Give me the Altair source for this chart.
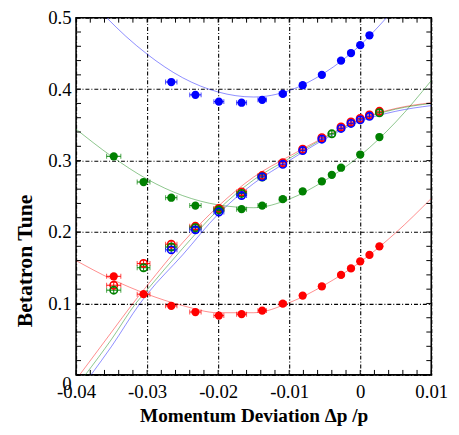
import altair as alt
import pandas as pd

# ---------------- data ----------------
X = [-0.0347, -0.0305, -0.0266, -0.0232, -0.0199, -0.0167, -0.0138, -0.0109,
     -0.0081, -0.0054, -0.0040, -0.0027, -0.0013, 0.0, 0.0013, 0.0027]
XERR = [0.0010, 0.0009, 0.0008, 0.0008, 0.0007, 0.0007, 0.0006, 0.0005,
        0.0004, 0.0004, 0.0004, 0.0004, 0.0004, 0.0004, 0.0004, 0.0004]
YERR = [0.004, 0.004, 0.004, 0.004, 0.004, 0.004, 0.004, 0.004,
        0.004, 0.004, 0.004, 0.004, 0.004, 0.004, 0.004, 0.004]

RED_FILLED = [0.138, 0.113, 0.0966, 0.088, 0.083, 0.085, 0.090, 0.0997,
              0.111, 0.124, None, 0.140, 0.149, 0.159, 0.168, 0.180]
GREEN_FILLED = [0.306, 0.270, 0.248, 0.237, 0.232, 0.232, 0.237, 0.246,
                0.257, 0.271, 0.280, 0.290, None, 0.3085, None, 0.333]
BLUE_FILLED = [None, None, 0.410, 0.392, 0.3825, 0.381, 0.385, 0.3935,
               0.4055, 0.420, None, 0.440, 0.4506, 0.4616, 0.4754, None]

RED_OPEN = [0.1255, 0.156, 0.183, 0.208, 0.233, 0.256, 0.279, 0.297,
            0.316, 0.332, None, 0.347, 0.354, 0.359, 0.364, 0.369]
GREEN_OPEN = [0.1186, 0.150, 0.179, 0.206, 0.231, 0.254, 0.277, None,
              None, None, 0.3375, None, None, None, None, 0.367]
BLUE_OPEN = [None, None, 0.175, 0.203, 0.228, 0.251, 0.2772, 0.2948,
             0.314, 0.330, None, 0.345, 0.352, 0.357, 0.362, None]

# fitted curves
RED_PAR_X = [-0.04, -0.035, -0.03, -0.025, -0.02, -0.015, -0.01, -0.005, 0.0, 0.005, 0.01]
RED_PAR_Y = [0.160, 0.134, 0.113, 0.097, 0.087, 0.087, 0.101, 0.126, 0.158, 0.199, 0.247]
GREEN_PAR_X = [-0.04, -0.035, -0.03, -0.025, -0.02, -0.015, -0.01, -0.005, 0.0, 0.005, 0.01]
GREEN_PAR_Y = [0.344, 0.306, 0.274, 0.251, 0.238, 0.234, 0.246, 0.272, 0.307, 0.354, 0.412]
BLUE_PAR_X = [-0.0357, -0.033, -0.03, -0.025, -0.02, -0.015, -0.01, -0.005, 0.0, 0.0037]
BLUE_PAR_Y = [0.500, 0.474, 0.449, 0.416, 0.396, 0.389, 0.398, 0.423, 0.4616, 0.500]

RED_DIAG_X = [-0.0395, -0.035, -0.032, -0.03, -0.025, -0.02, -0.015, -0.01, -0.005, 0.0, 0.005, 0.01]
RED_DIAG_Y = [0.0, 0.060, 0.100, 0.125, 0.185, 0.236, 0.277, 0.306, 0.333, 0.358, 0.373, 0.381]
GREEN_DIAG_X = [-0.0387, -0.035, -0.0316, -0.03, -0.025, -0.02, -0.015, -0.01, -0.005, 0.0, 0.005, 0.01]
GREEN_DIAG_Y = [0.0, 0.050, 0.100, 0.119, 0.177, 0.231, 0.273, 0.303, 0.332, 0.357, 0.372, 0.380]
BLUE_DIAG_X = [-0.0379, -0.035, -0.031, -0.03, -0.025, -0.02, -0.015, -0.01, -0.005, 0.0, 0.005, 0.01]
BLUE_DIAG_Y = [0.0, 0.040, 0.100, 0.113, 0.168, 0.225, 0.268, 0.300, 0.330, 0.355, 0.369, 0.377]

X_MAJOR = [-0.04, -0.03, -0.02, -0.01, 0.0, 0.01]
Y_MAJOR = [0.0, 0.1, 0.2, 0.3, 0.4, 0.5]
X_MINOR = [round(-0.04 + 0.002 * i, 4) for i in range(26)]
Y_MINOR = [round(0.02 * i, 3) for i in range(26)]

# ---------------- tables ----------------
rows = []
series = [("red", "filled", RED_FILLED), ("green", "filled", GREEN_FILLED),
          ("blue", "filled", BLUE_FILLED), ("red", "open", RED_OPEN),
          ("green", "open", GREEN_OPEN), ("blue", "open", BLUE_OPEN)]
n = 0
for col, kind, vals in series:
    for i, v in enumerate(vals):
        if v is None:
            continue
        rows.append(dict(x=X[i], y=v, xlo=X[i] - XERR[i], xhi=X[i] + XERR[i],
                         ylo=v - YERR[i], yhi=v + YERR[i], color=col, kind=kind, n=n))
        n += 1
pts = pd.DataFrame(rows)
filled = pts[pts.kind == "filled"]
opened = pts[pts.kind == "open"]

crow = []
for name, col, xs, ys in [("rp", "red", RED_PAR_X, RED_PAR_Y), ("gp", "green", GREEN_PAR_X, GREEN_PAR_Y),
                          ("bp", "blue", BLUE_PAR_X, BLUE_PAR_Y), ("rd", "red", RED_DIAG_X, RED_DIAG_Y),
                          ("gd", "green", GREEN_DIAG_X, GREEN_DIAG_Y), ("bd", "blue", BLUE_DIAG_X, BLUE_DIAG_Y)]:
    for a, b in zip(xs, ys):
        crow.append(dict(x=a, y=b, curve=name, color=col))
curves = pd.DataFrame(crow)

xt = pd.DataFrame({"v": X_MINOR})
yt = pd.DataFrame({"v": Y_MINOR})

# ---------------- styling ----------------
W, H = 360, 362
TL = 5  # tick length
FONT = "Liberation Serif"
XS = alt.Scale(domain=[-0.04, 0.01], nice=False, zero=False)
YS = alt.Scale(domain=[0, 0.5], nice=False, zero=False)
CS = alt.Scale(domain=["red", "green", "blue"], range=["#ff0000", "#008000", "#0000ff"])
COLOR = alt.Color("color:N", scale=CS, legend=None)

AX_MAIN = alt.Axis(orient="bottom", values=X_MAJOR, ticks=False, tickSize=0, domain=False,
                   grid=True, gridColor="black", gridDash=[4, 2, 1, 2], gridWidth=1.1,
                   labelExpr="datum.value === 0 ? '0' : (datum.value < 0 ? '-' + format(-datum.value, '.2f') : format(datum.value, '.2f'))",
                   labelFont=FONT, labelFontSize=19, labelColor="black", labelPadding=8,
                   labelFlush=False, labelOverlap=False,
                   title="Momentum Deviation \u0394p /p", titleFont=FONT, titleFontSize=19.5,
                   titleFontWeight="bold", titleColor="black", titlePadding=5)
AY_MAIN = alt.Axis(orient="left", values=Y_MAJOR, ticks=False, tickSize=0, domain=False,
                   grid=True, gridColor="black", gridDash=[4, 2, 1, 2], gridWidth=1.1,
                   labelExpr="datum.value === 0 ? '0' : format(datum.value, '.1f')",
                   labelBaseline={"condition": {"test": "datum.value === 0", "value": "top"}, "value": "middle"},
                   labelFont=FONT, labelFontSize=19, labelColor="black", labelPadding=5,
                   labelFlush=False, labelOverlap=False,
                   title="Betatron Tune", titleFont=FONT, titleFontSize=22,
                   titleFontWeight="bold", titleColor="black",
                   titleX=-52, titleY=246, titleAngle=270, titleBaseline="middle", titleAlign="center")

lines = alt.Chart(curves).mark_line(strokeWidth=0.9, opacity=0.5, interpolate="monotone", clip=True).encode(
    x=alt.X("x:Q", scale=XS, axis=AX_MAIN),
    y=alt.Y("y:Q", scale=YS, axis=AY_MAIN),
    color=COLOR, detail="curve:N", order="x:Q")

# inward tick marks on all four sides of the frame
tick_style = dict(color="black", strokeWidth=1)
xt_bottom = alt.Chart(xt).mark_rule(**tick_style).encode(
    x=alt.X("v:Q", scale=XS, axis=None), y=alt.value(H), y2=alt.value(H - TL))
xt_top = alt.Chart(xt).mark_rule(**tick_style).encode(
    x=alt.X("v:Q", scale=XS, axis=None), y=alt.value(0), y2=alt.value(TL))
yt_left = alt.Chart(yt).mark_rule(**tick_style).encode(
    y=alt.Y("v:Q", scale=YS, axis=None), x=alt.value(0), x2=alt.value(TL))
yt_right = alt.Chart(yt).mark_rule(**tick_style).encode(
    y=alt.Y("v:Q", scale=YS, axis=None), x=alt.value(W), x2=alt.value(W - TL))

hbars = alt.Chart(pts).mark_rule(strokeWidth=1).encode(
    x=alt.X("xlo:Q", scale=XS, axis=None), x2="xhi:Q",
    y=alt.Y("y:Q", scale=YS, axis=None), color=COLOR)
hcap_lo = alt.Chart(pts).mark_tick(orient="vertical", size=5, thickness=1).encode(
    x=alt.X("xlo:Q", scale=XS, axis=None),
    y=alt.Y("y:Q", scale=YS, axis=None), color=COLOR)
hcap_hi = alt.Chart(pts).mark_tick(orient="vertical", size=5, thickness=1).encode(
    x=alt.X("xhi:Q", scale=XS, axis=None),
    y=alt.Y("y:Q", scale=YS, axis=None), color=COLOR)
vbars = alt.Chart(pts).mark_rule(strokeWidth=1).encode(
    x=alt.X("x:Q", scale=XS, axis=None),
    y=alt.Y("ylo:Q", scale=YS, axis=None), y2="yhi:Q", color=COLOR)
vcap_lo = alt.Chart(pts).mark_tick(orient="horizontal", size=4, thickness=1).encode(
    x=alt.X("x:Q", scale=XS, axis=None),
    y=alt.Y("ylo:Q", scale=YS, axis=None), color=COLOR)
vcap_hi = alt.Chart(pts).mark_tick(orient="horizontal", size=4, thickness=1).encode(
    x=alt.X("x:Q", scale=XS, axis=None),
    y=alt.Y("yhi:Q", scale=YS, axis=None), color=COLOR)
fpts = alt.Chart(filled).mark_point(filled=True, size=70, opacity=1).encode(
    x=alt.X("x:Q", scale=XS, axis=None),
    y=alt.Y("y:Q", scale=YS, axis=None), color=COLOR, order="n:Q")
opts = alt.Chart(opened).mark_point(filled=False, size=56, strokeWidth=1.6, opacity=1).encode(
    x=alt.X("x:Q", scale=XS, axis=None),
    y=alt.Y("y:Q", scale=YS, axis=None), color=COLOR, order="n:Q")

chart = alt.layer(lines, xt_bottom, xt_top, yt_left, yt_right,
                  hbars, hcap_lo, hcap_hi, vbars, vcap_lo, vcap_hi, fpts, opts).resolve_axis(
    x="independent", y="independent"
).properties(
    width=W, height=H,
    autosize=alt.AutoSizeParams(type="none"),
    padding={"left": 69, "top": 7, "right": 20, "bottom": 52},
    background="white",
).configure_view(stroke="black", strokeWidth=1.6)

chart.save("out.html", embed_options={"renderer": "svg", "actions": False})
